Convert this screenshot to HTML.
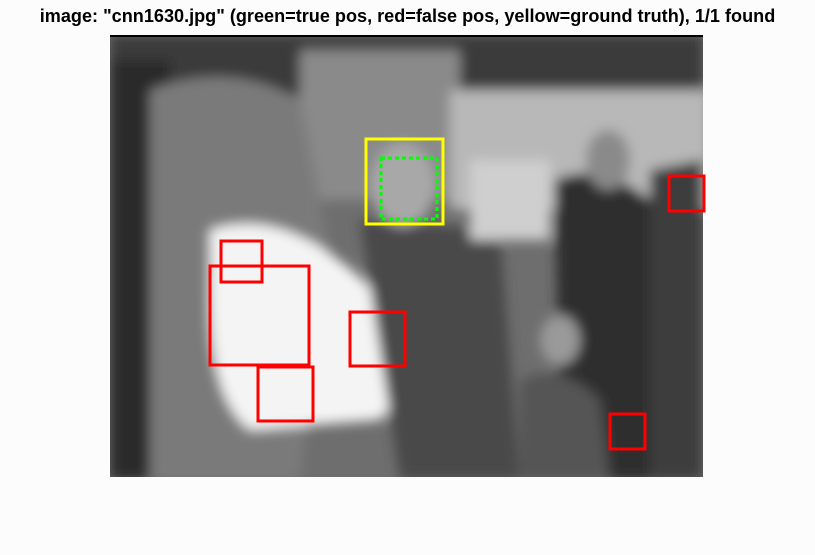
<!DOCTYPE html>
<html><head><meta charset="utf-8"><style>
html,body{margin:0;padding:0;background:#fcfcfc;width:815px;height:555px;overflow:hidden}
.t{position:absolute;left:0;top:6px;width:815px;text-align:center;font:bold 18.1px "Liberation Sans",sans-serif;color:#000;white-space:nowrap}
svg{position:absolute;left:0;top:0}
</style></head><body>
<div class="t">image: "cnn1630.jpg" (green=true pos, red=false pos, yellow=ground truth), 1/1 found</div>
<svg width="815" height="555" viewBox="0 0 815 555">
<defs>
<filter id="b"><feGaussianBlur stdDeviation="6"/></filter>
<clipPath id="c"><rect x="110" y="35" width="593" height="442"/></clipPath>
</defs>
<rect x="110" y="35" width="593" height="442" fill="#6e6e6e"/>
<g clip-path="url(#c)" filter="url(#b)">
<rect x="110" y="35" width="593" height="60" fill="#3a3a3a"/>
<rect x="300" y="50" width="160" height="150" fill="#8a8a8a"/>
<rect x="450" y="90" width="260" height="120" fill="#b8b8b8"/>
<rect x="110" y="60" width="60" height="420" fill="#2a2a2a"/>
<path d="M150 90 Q230 60 300 100 L330 250 L300 480 L150 480 Z" fill="#7a7a7a"/>
<path d="M210 230 Q300 200 400 320 Q420 380 380 420 L250 430 Q210 400 210 300 Z" fill="#f4f4f4"/>
<path d="M360 220 L500 230 L520 480 L400 480 Z" fill="#4a4a4a"/>
<ellipse cx="403" cy="185" rx="32" ry="42" fill="#a8a8a8"/>
<path d="M555 180 Q600 160 650 200 L660 480 L560 480 Z" fill="#2e2e2e"/>
<ellipse cx="608" cy="160" rx="22" ry="30" fill="#8a8a8a"/>
<path d="M650 170 L703 160 L703 480 L650 480 Z" fill="#3e3e3e"/>
<path d="M520 380 Q560 360 600 400 L610 480 L520 480 Z" fill="#555"/>
<ellipse cx="560" cy="340" rx="20" ry="25" fill="#9a9a9a"/>
<rect x="470" y="160" width="80" height="80" fill="#cfcfcf"/>
</g>
<line x1="110" y1="36" x2="703" y2="36" stroke="#000" stroke-width="2"/>
<g fill="none" stroke="#f00" stroke-width="3">
<rect x="669" y="176" width="35" height="35"/>
<rect x="221" y="241" width="41" height="41"/>
<rect x="210" y="266" width="99" height="99"/>
<rect x="350" y="312" width="55" height="54"/>
<rect x="258" y="367" width="55" height="54"/>
<rect x="610" y="414" width="35" height="35"/>
</g>
<rect x="366" y="139" width="77" height="85" fill="none" stroke="#ff0" stroke-width="3"/>
<rect x="381" y="158" width="56" height="61" fill="none" stroke="#0f0" stroke-width="3" stroke-dasharray="4,3"/>
</svg>
</body></html>
